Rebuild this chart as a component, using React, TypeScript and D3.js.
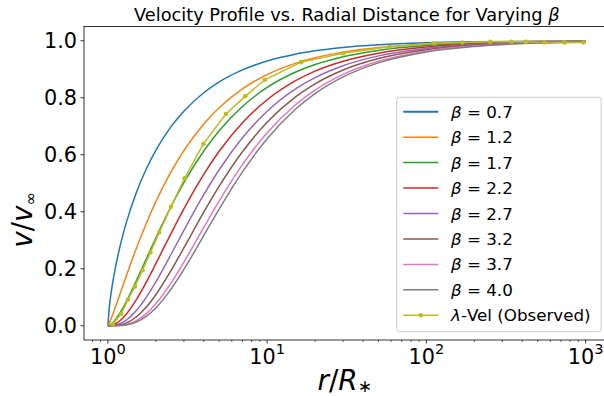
import React from "react";
import * as d3 from "d3";

const rSamples = [1, 1.02, 1.05, 1.1, 1.2, 1.3, 1.5, 1.75, 2, 2.5, 3, 4, 5, 7, 10, 15, 20, 30, 50, 100, 200, 500, 1000];

const betaLabels = ["0.7", "1.2", "1.7", "2.2", "2.7", "3.2", "3.7", "4.0"];

const v07 = [0, 0.0638, 0.1187, 0.1867, 0.2853, 0.3583, 0.4634, 0.5526, 0.6156, 0.6994, 0.7529, 0.8176, 0.8554, 0.8977, 0.9289, 0.9529, 0.9647, 0.9765, 0.986, 0.993, 0.9965, 0.9986, 0.9993];
const v12 = [0, 0.00893, 0.02591, 0.05627, 0.1165, 0.1721, 0.2676, 0.3617, 0.4353, 0.5417, 0.6147, 0.7081, 0.7651, 0.8311, 0.8812, 0.9205, 0.9403, 0.9601, 0.9761, 0.988, 0.994, 0.9976, 0.9988];
const v17 = [0, 0.00125, 0.00566, 0.01697, 0.04754, 0.08268, 0.1545, 0.2368, 0.3078, 0.4196, 0.5019, 0.6132, 0.6844, 0.7694, 0.836, 0.8893, 0.9165, 0.944, 0.9662, 0.9831, 0.9915, 0.9966, 0.9983];
const v22 = [0, 0.000175, 0.00123, 0.00512, 0.0194, 0.0397, 0.0892, 0.155, 0.2177, 0.325, 0.4098, 0.531, 0.6121, 0.7123, 0.7931, 0.8592, 0.8933, 0.9281, 0.9565, 0.9781, 0.989, 0.9956, 0.9978];
const v27 = [0, 0.0000245, 0.000269, 0.00154, 0.00792, 0.01908, 0.0515, 0.1015, 0.1539, 0.2518, 0.3346, 0.4599, 0.5475, 0.6595, 0.7524, 0.83, 0.8707, 0.9125, 0.9469, 0.9732, 0.9866, 0.9946, 0.9973];
const v32 = [0, 0, 0.0000588, 0.000465, 0.00323, 0.00917, 0.02973, 0.0664, 0.1088, 0.195, 0.2732, 0.3983, 0.4897, 0.6105, 0.7138, 0.8019, 0.8486, 0.8972, 0.9374, 0.9684, 0.9841, 0.9936, 0.9968];
const v37 = [0, 0, 0.0000128, 0.00014, 0.00132, 0.00441, 0.01716, 0.0435, 0.07694, 0.1511, 0.223, 0.3449, 0.438, 0.5652, 0.6772, 0.7747, 0.8271, 0.8821, 0.928, 0.9635, 0.9816, 0.9926, 0.9963];
const v40 = [0, 0, 0.0000051, 0.0000683, 0.000772, 0.00284, 0.01235, 0.03374, 0.0625, 0.1296, 0.1975, 0.3164, 0.4096, 0.5397, 0.6561, 0.7588, 0.8145, 0.8732, 0.9224, 0.9606, 0.9801, 0.992, 0.996];

const betaSeries = [v07, v12, v17, v22, v27, v32, v37, v40];

const obsR = [1.07, 1.21, 1.335, 1.48, 1.65, 1.85, 2.1, 2.49, 3.03, 3.98, 5.51, 7.28, 9.67, 16.35, 30.1, 58.6, 112, 168, 252, 342, 421, 551, 736, 968];
const obsV = [0.005, 0.041, 0.091, 0.138, 0.195, 0.257, 0.327, 0.4175, 0.5175, 0.638, 0.743, 0.805, 0.863, 0.925, 0.956, 0.979, 0.991, 0.994, 0.9965, 0.9965, 0.9965, 0.994, 0.994, 0.994];

const yTicks = [0, 0.2, 0.4, 0.6, 0.8, 1.0];
const xTickExps = [0, 1, 2, 3];

const colors = ["#1f77b4", "#ff7f0e", "#2ca02c", "#d62728", "#9467bd", "#8c564b", "#e377c2", "#7f7f7f"];
const obsColor = "#bcbd22";

const W = 604;
const H = 396;
const left = 84;
const right = 609.5;
const top = 26.5;
const bottom = 340;
const FONT = "DejaVu Sans, sans-serif";

export default function App() {
  const x = d3.scaleLog().domain([Math.pow(10, -0.15), Math.pow(10, 3.15)]).range([left, right]);
  const y = d3.scaleLinear().domain([-0.05, 1.05]).range([bottom, top]);

  const line = d3
    .line<[number, number]>()
    .x((d) => x(d[0]))
    .y((d) => y(d[1]))
    .curve(d3.curveMonotoneX);
  const straight = d3
    .line<[number, number]>()
    .x((d) => x(d[0]))
    .y((d) => y(d[1]));

  const minor: number[] = [];
  for (let k = -1; k <= 3; k++) {
    for (let m = 2; m <= 9; m++) {
      const v = m * Math.pow(10, k);
      if (v >= x.domain()[0] && v <= x.domain()[1]) minor.push(v);
    }
  }

  const obsPts: [number, number][] = obsR.map((r, i) => [r, obsV[i]]);

  const legX = 396.7;
  const legY = 97.3;
  const legW = 204.5;
  const legH = 234.4;
  const rowH = 25.45;
  const row0 = 111.7;

  return (
    <svg
      width={W}
      height={H}
      style={{ position: "absolute", left: 0, top: 0, background: "#fff" }}
      fontFamily={FONT}
    >
      <rect x={0} y={0} width={W} height={H} fill="#fff" />
      <defs>
        <clipPath id="plotclip">
          <rect x={left} y={top} width={right - left} height={bottom - top} />
        </clipPath>
      </defs>

      {/* title */}
      <text x={(left + right) / 2} y={20.5} textAnchor="middle" fontSize={17.8} fill="#000">
        Velocity Profile vs. Radial Distance for Varying <tspan fontStyle="italic">β</tspan>
      </text>

      {/* curves */}
      <g clipPath="url(#plotclip)">
        {betaSeries.map((vals, i) => (
          <path
            key={i}
            d={line(rSamples.map((r, j) => [r, vals[j]] as [number, number])) || ""}
            fill="none"
            stroke={colors[i]}
            strokeWidth={1.5}
          />
        ))}
        <path d={straight(obsPts) || ""} fill="none" stroke={obsColor} strokeWidth={1.5} />
        {obsPts.map((p, i) => (
          <circle key={i} cx={x(p[0])} cy={y(p[1])} r={2.3} fill={obsColor} />
        ))}
      </g>

      {/* axes frame */}
      <rect x={left} y={top} width={right - left} height={bottom - top} fill="none" stroke="#000" strokeWidth={0.8} />

      {/* y ticks */}
      {yTicks.map((t) => (
        <g key={t}>
          <line x1={left - 3.5} x2={left} y1={y(t)} y2={y(t)} stroke="#000" strokeWidth={0.8} />
          <text x={left - 7} y={y(t)} dy="0.36em" textAnchor="end" fontSize={20.8} fill="#000">
            {t.toFixed(1)}
          </text>
        </g>
      ))}

      {/* x ticks */}
      {minor.map((m) => (
        <line key={m} x1={x(m)} x2={x(m)} y1={bottom} y2={bottom + 2} stroke="#000" strokeWidth={0.6} />
      ))}
      {xTickExps.map((e) => {
        const px = x(Math.pow(10, e));
        return (
          <g key={e}>
            <line x1={px} x2={px} y1={bottom} y2={bottom + 3.5} stroke="#000" strokeWidth={0.8} />
            <text x={px} y={364} textAnchor="middle" fontSize={20.8} fill="#000">
              10
              <tspan fontSize={14.6} dy={-10.5}>
                {e}
              </tspan>
            </text>
          </g>
        );
      })}

      {/* axis labels */}
      <text x={(left + right) / 2 - 2} y={390} textAnchor="middle" fontSize={27.8} fill="#000">
        <tspan fontStyle="italic">r</tspan>/<tspan fontStyle="italic">R</tspan>
        <tspan fontSize={17} dy={2}>∗</tspan>
      </text>
      <text
        transform={`translate(32, 220) rotate(-90)`}
        textAnchor="middle"
        fontSize={27.8}
        fill="#000"
      >
        <tspan fontStyle="italic">v</tspan>/<tspan fontStyle="italic">v</tspan>
        <tspan fontSize={16} dy={4}>∞</tspan>
      </text>

      {/* legend */}
      <rect x={legX} y={legY} width={legW} height={legH} rx={3} ry={3} fill="#fff" fillOpacity={0.8} stroke="#cccccc" strokeWidth={1} />
      {betaLabels.map((b, i) => {
        const cy = row0 + i * rowH;
        return (
          <g key={b}>
            <line x1={403.3} x2={438.3} y1={cy} y2={cy} stroke={colors[i]} strokeWidth={i === 0 ? 2 : 1.5} />
            <text x={451} y={cy} dy="0.36em" fontSize={16.7} fill="#000">
              <tspan fontStyle="italic">β</tspan> = {b}
            </text>
          </g>
        );
      })}
      {(() => {
        const cy = row0 + betaLabels.length * rowH;
        return (
          <g>
            <line x1={403.3} x2={438.3} y1={cy} y2={cy} stroke={obsColor} strokeWidth={1.5} />
            <circle cx={420.8} cy={cy} r={2.3} fill={obsColor} />
            <text x={451} y={cy} dy="0.36em" fontSize={16.7} fill="#000">
              <tspan fontStyle="italic">λ</tspan>-Vel (Observed)
            </text>
          </g>
        );
      })()}
    </svg>
  );
}
